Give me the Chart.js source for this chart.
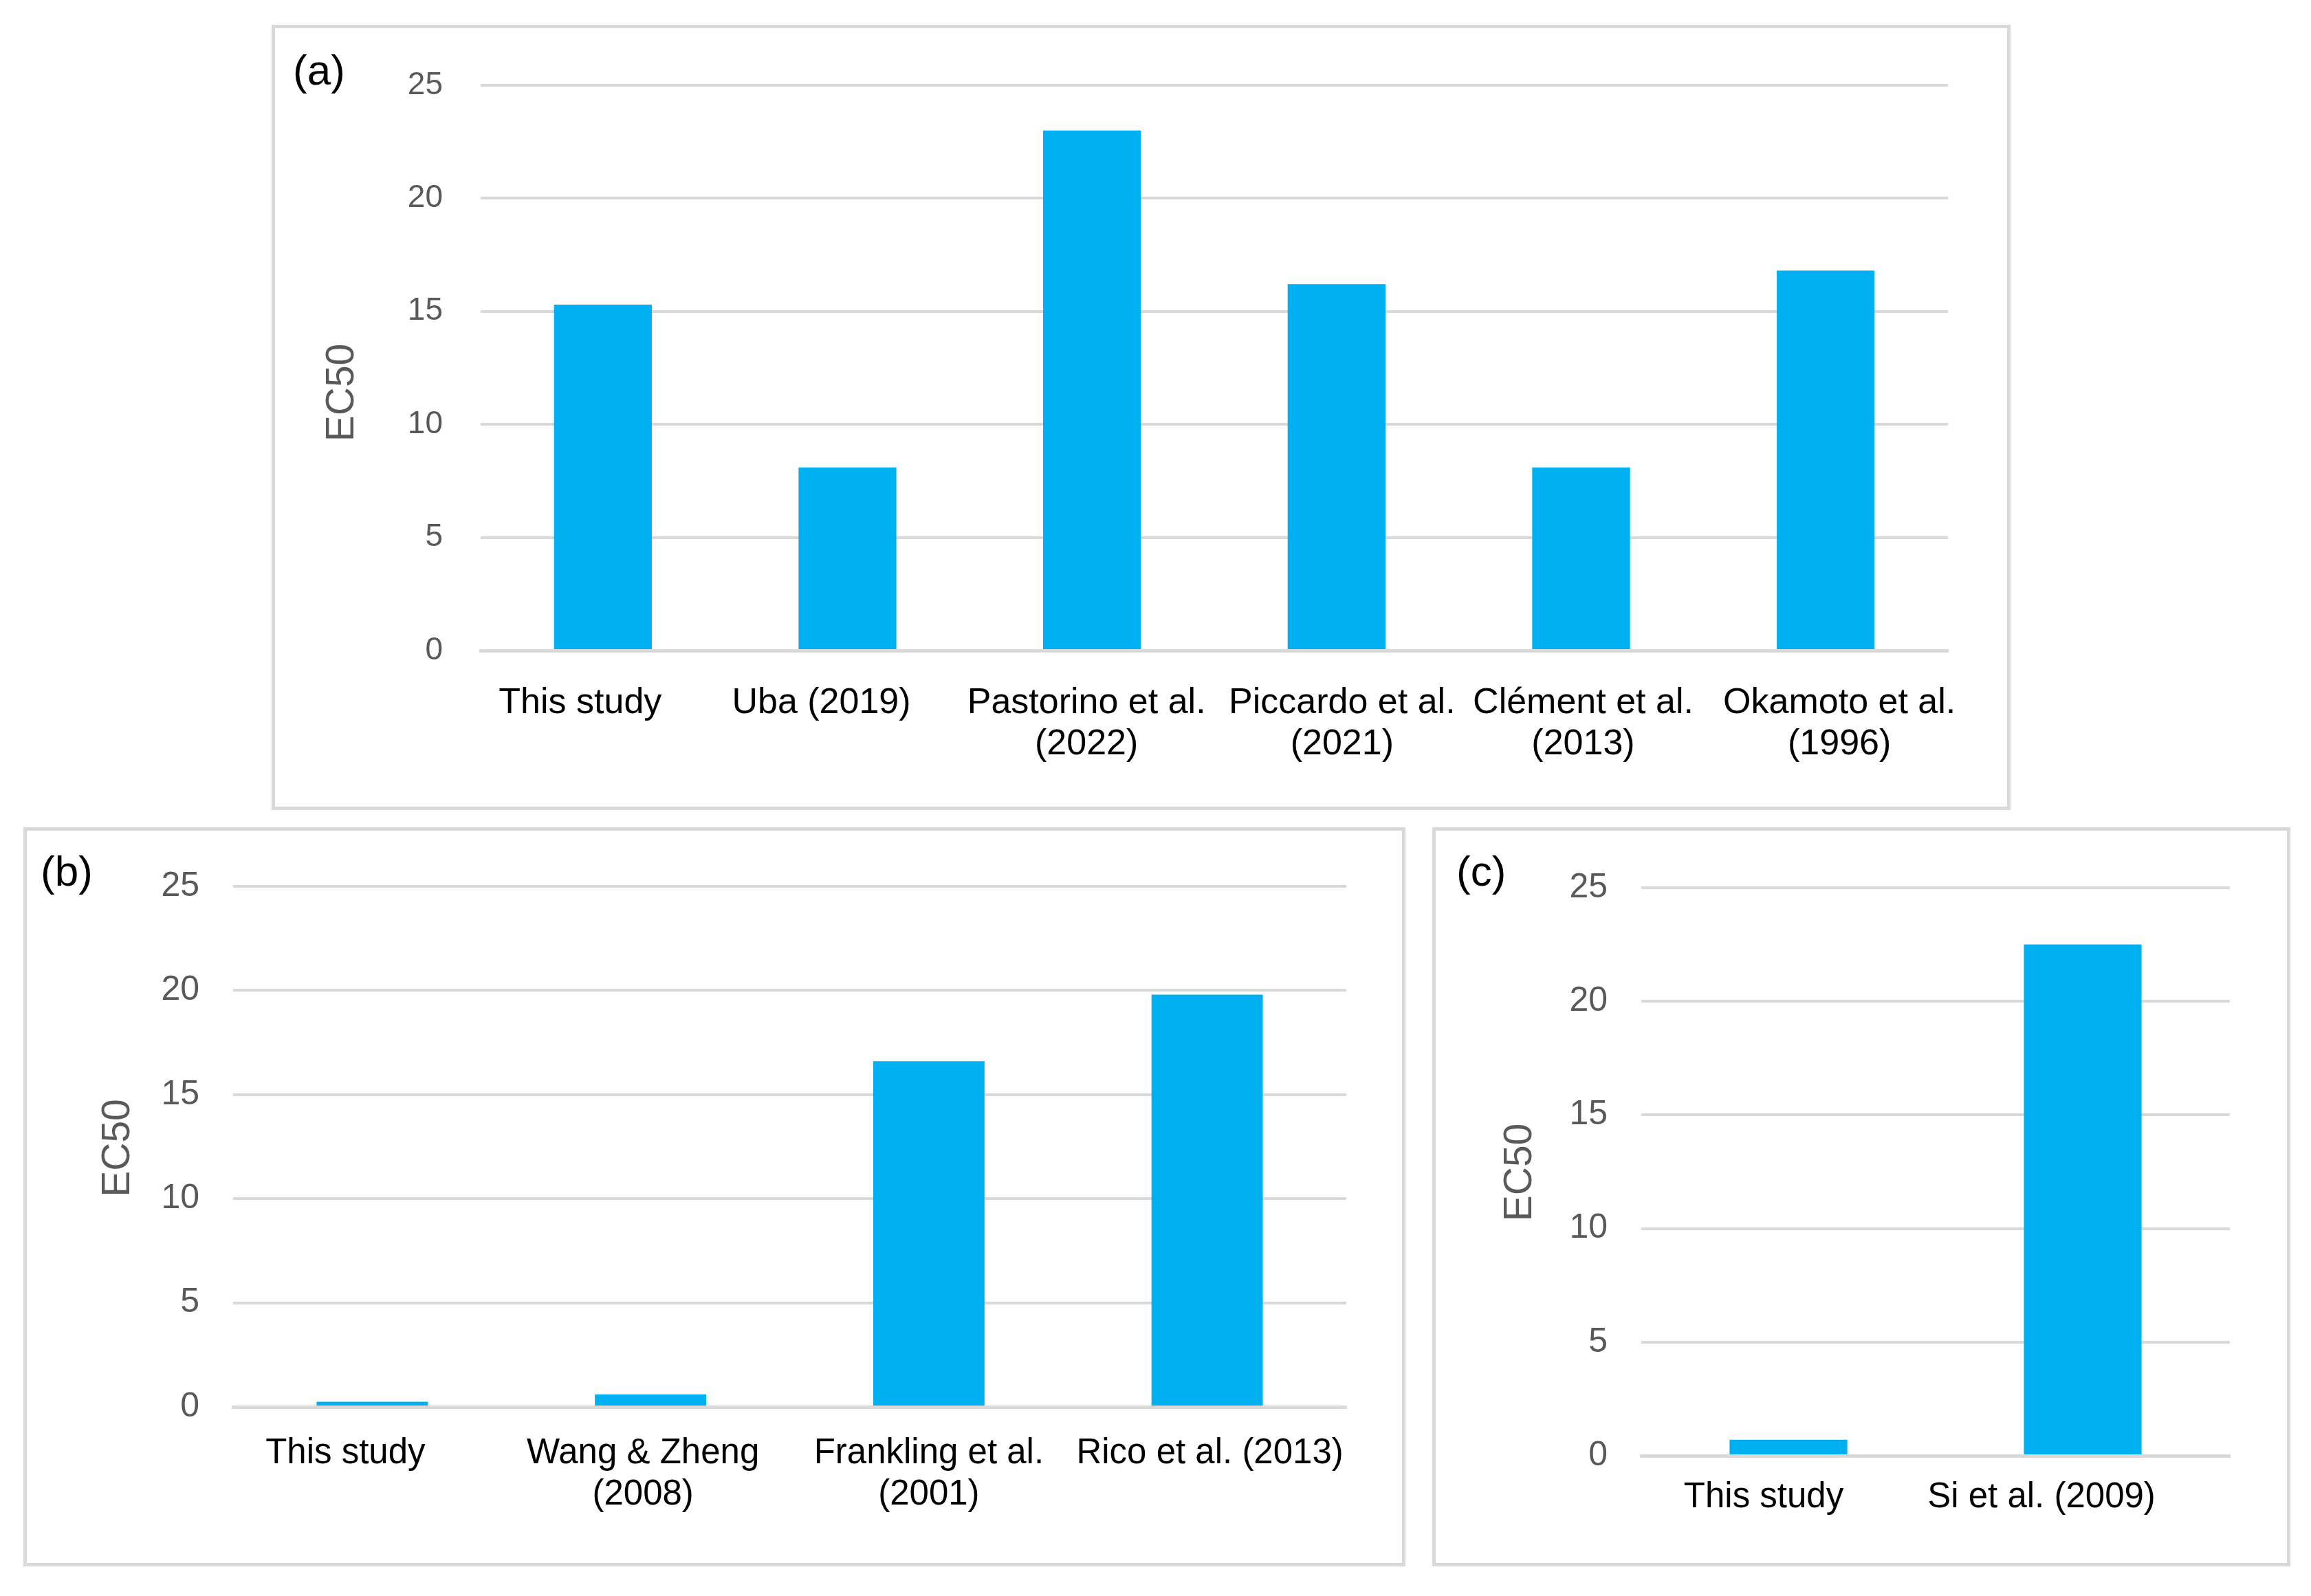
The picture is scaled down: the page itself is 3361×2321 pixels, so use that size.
<!DOCTYPE html>
<html>
<head>
<meta charset="utf-8">
<script src="https://cdn.jsdelivr.net/npm/chart.js@4"></script>
<style>
  html, body { margin: 0; padding: 0; background: #ffffff; }
  body { width: 3361px; height: 2321px; position: relative; overflow: hidden; }
  canvas { position: absolute; }
  .frame { position: absolute; box-sizing: border-box; border: 5px solid #d9d9d9; }
  .tag { position: absolute; font-family: "Liberation Sans", Arial, sans-serif; font-size: 62px; color: #000; line-height: 1; }
</style>
</head>
<body>
<canvas id="ca"></canvas>
<canvas id="cb"></canvas>
<canvas id="cc"></canvas>
<div class="frame" style="left:395px;top:36px;width:2529px;height:1142px;"></div>
<div class="frame" style="left:34px;top:1203px;width:2010px;height:1075px;"></div>
<div class="frame" style="left:2083px;top:1203px;width:1248px;height:1075px;"></div>
<div class="tag" style="left:426px;top:71px;">(a)</div>
<div class="tag" style="left:59px;top:1236px;">(b)</div>
<div class="tag" style="left:2118px;top:1236px;">(c)</div>
<script>
// ---- data ----
const categoriesA = ['This study', 'Uba (2019)', ['Pastorino et al.', '(2022)'], ['Piccardo et al.', '(2021)'], ['Clément et al.', '(2013)'], ['Okamoto et al.', '(1996)']];
const valuesA = [15.3, 8.1, 23.0, 16.2, 8.1, 16.8];

const categoriesB = ['This study', ['Wang & Zheng', '(2008)'], ['Frankling et al.', '(2001)'], 'Rico et al. (2013)'];
const valuesB = [0.25, 0.6, 16.6, 19.8];

const categoriesC = ['This study', 'Si et al. (2009)'];
const valuesC = [0.7, 22.5];

const yTicks = [0, 5, 10, 15, 20, 25];
const yTitle = 'EC50';

const FONT = '"Liberation Sans", Arial, sans-serif';

// draws category labels under each bar (position taken from the x scale)
const catLabels = {
  id: 'catLabels',
  afterDraw(chart, args, o) {
    const ctx = chart.ctx, xs = chart.scales.x, area = chart.chartArea;
    ctx.save();
    ctx.fillStyle = '#000000';
    ctx.font = o.size + 'px ' + FONT;
    ctx.textAlign = 'center';
    ctx.textBaseline = 'middle';
    chart.data.labels.forEach((lab, i) => {
      const lines = Array.isArray(lab) ? lab : [lab];
      const x = xs.getPixelForTick(i) + o.dx[i];
      lines.forEach((ln, j) => ctx.fillText(ln, x, area.bottom + o.dy + j * o.lh));
    });
    ctx.restore();
  }
};

// draws the rotated y-axis title
const yAxisTitle = {
  id: 'yAxisTitle',
  afterDraw(chart, args, o) {
    const ctx = chart.ctx, area = chart.chartArea;
    ctx.save();
    ctx.fillStyle = '#595959';
    ctx.font = o.size + 'px ' + FONT;
    ctx.textAlign = 'center';
    ctx.textBaseline = 'middle';
    ctx.translate(chart.scales.y.left + o.tx, (area.top + area.bottom) / 2 + o.ty);
    ctx.rotate(-Math.PI / 2);
    ctx.fillText(yTitle, 0, 0);
    ctx.restore();
  }
};

function makeChart(id, box, cats, vals, cfg) {
  const cv = document.getElementById(id);
  cv.style.left = box.x + 'px';
  cv.style.top = box.y + 'px';
  cv.width = box.w; cv.height = box.h;
  cv.style.width = box.w + 'px'; cv.style.height = box.h + 'px';
  return new Chart(cv, {
    type: 'bar',
    data: {
      labels: cats,
      datasets: [{
        data: vals,
        backgroundColor: '#00b0f0',
        borderWidth: 0,
        barPercentage: 0.4,
        categoryPercentage: 1.0
      }]
    },
    plugins: [catLabels, yAxisTitle],
    options: {
      responsive: false,
      animation: false,
      devicePixelRatio: 1,
      layout: { padding: { top: cfg.top, right: cfg.right, left: 0, bottom: 0 } },
      plugins: {
        legend: { display: false },
        tooltip: { enabled: false },
        catLabels: { size: cfg.xFont, dx: cfg.dx, dy: cfg.dy, lh: 60 },
        yAxisTitle: { size: 57, tx: cfg.tx, ty: cfg.ty }
      },
      scales: {
        x: {
          grid: { display: false },
          border: { display: true, color: '#d9d9d9', width: 5 },
          ticks: { display: false },
          afterFit: s => { s.height = cfg.xH; }
        },
        y: {
          min: 0, max: 25,
          afterBuildTicks: s => { s.ticks = yTicks.map(v => ({ value: v })); },
          grid: { color: '#d9d9d9', lineWidth: 4, drawTicks: false },
          border: { display: false },
          ticks: {
            color: '#595959',
            font: { family: FONT, size: cfg.yFont },
            padding: cfg.yPad
          },
          afterFit: s => { s.width = cfg.yW; }
        }
      }
    }
  });
}

makeChart('ca', { x: 395, y: 36, w: 2529, h: 1142 }, categoriesA, valuesA,
  { top: 88, right: 91, xH: 232, yW: 304, yPad: 55, yFont: 46,
    xFont: 52, dx: [-33, -38, -8, 8, 3, 20], dy: 77, tx: 103, ty: 36 });
makeChart('cb', { x: 34, y: 1203, w: 2010, h: 1075 }, categoriesB, valuesB,
  { top: 86, right: 86, xH: 232, yW: 305, yPad: 49, yFont: 50,
    xFont: 51, dx: [-39, -11, 0, 4], dy: 68, tx: 138, ty: 2 });
makeChart('cc', { x: 2083, y: 1203, w: 1248, h: 1075 }, categoriesC, valuesC,
  { top: 88, right: 88, xH: 161, yW: 304, yPad: 49, yFont: 50,
    xFont: 51, dx: [-36, -60], dy: 61, tx: 128, ty: 1 });
</script>
</body>
</html>
